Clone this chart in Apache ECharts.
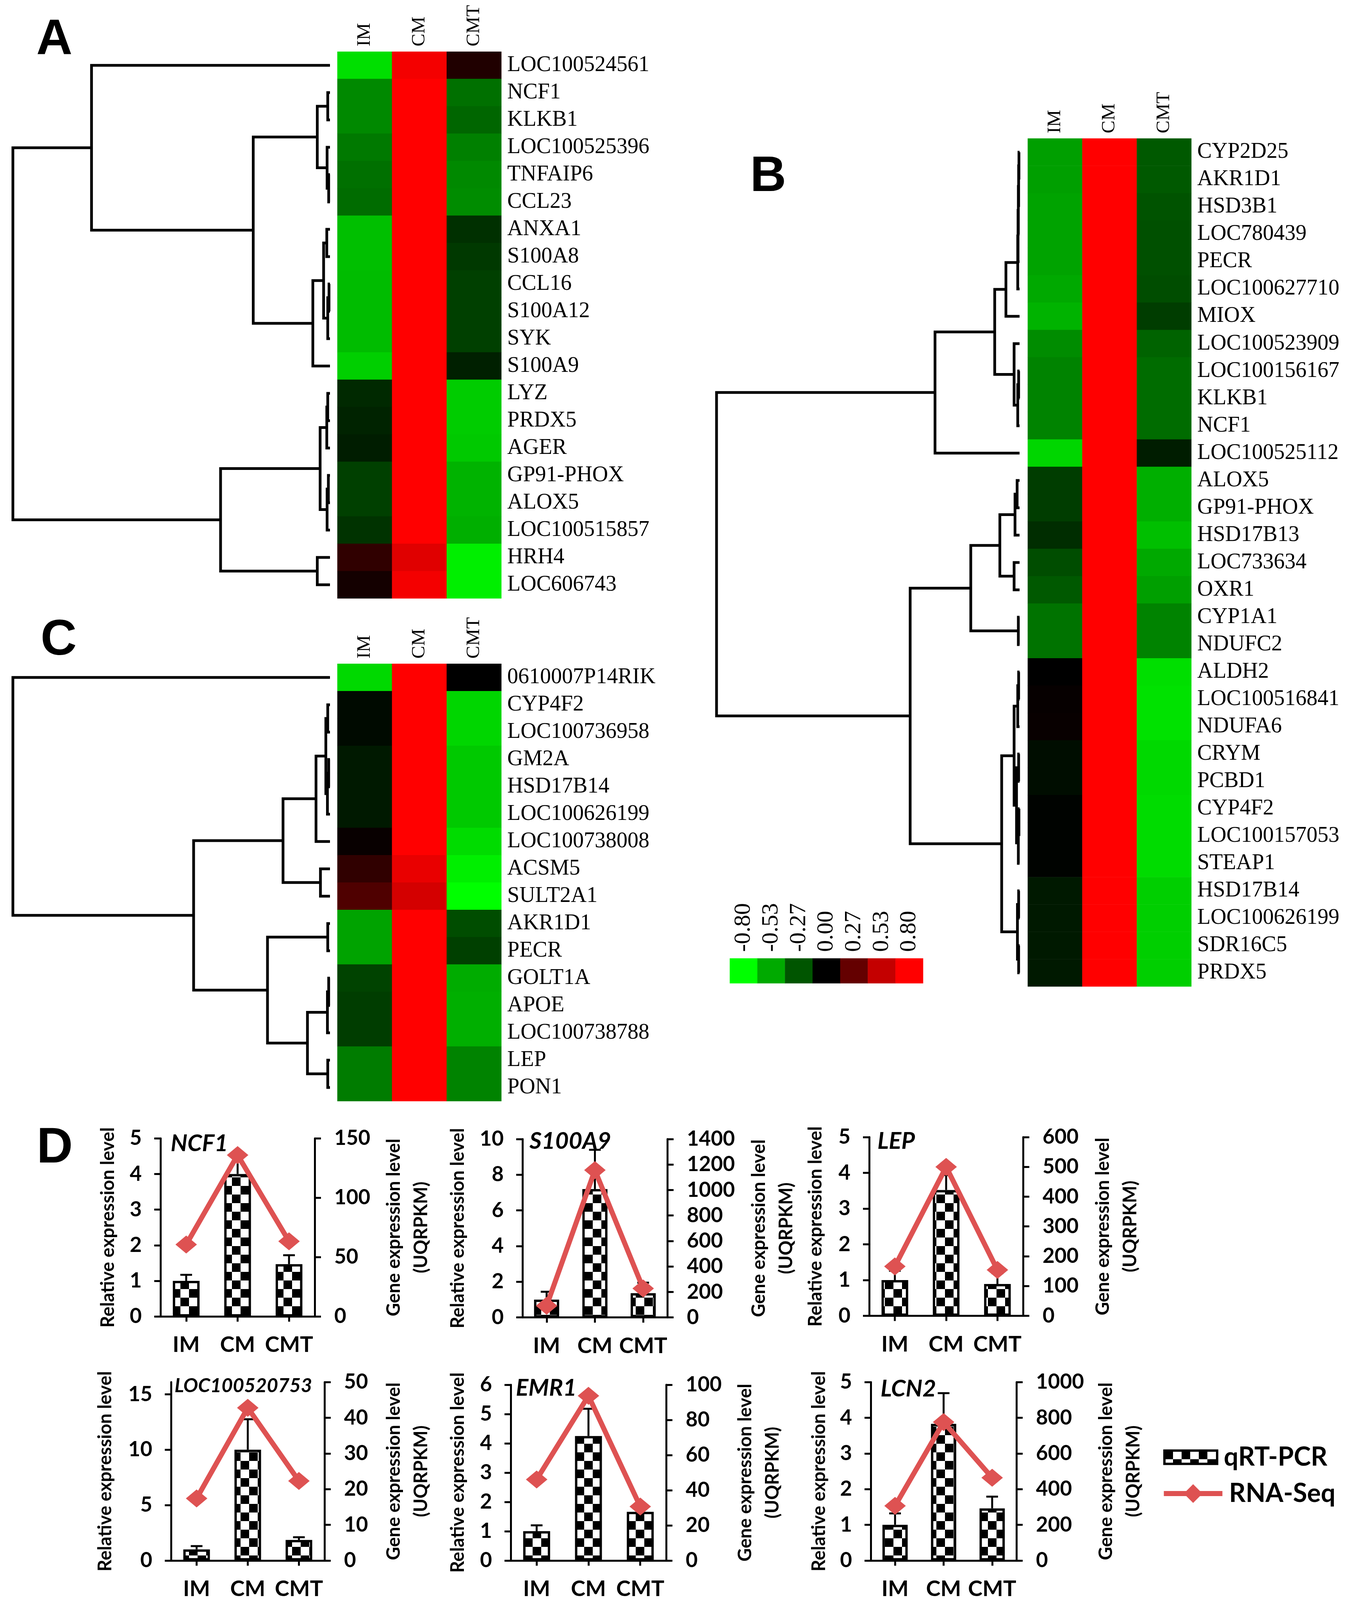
<!DOCTYPE html>
<html><head><meta charset="utf-8">
<script src="https://cdn.jsdelivr.net/npm/echarts@6/dist/echarts.min.js"></script>
<style>html,body{margin:0;padding:0;background:#fff;overflow:hidden}#c{width:3447px;height:4898px}</style>
</head><body><div id="c"></div>
<script>
// ---------------- DATA ----------------
const groups = ['IM', 'CM', 'CMT'];

// Panel A
const genesA = ['LOC100524561','NCF1','KLKB1','LOC100525396','TNFAIP6','CCL23','ANXA1','S100A8','CCL16','S100A12','SYK','S100A9','LYZ','PRDX5','AGER','GP91-PHOX','ALOX5','LOC100515857','HRH4','LOC606743'];
const valuesA = [
  [-0.70,0.75,0.085],[-0.43,0.80,-0.35],[-0.43,0.80,-0.32],[-0.38,0.80,-0.40],[-0.35,0.80,-0.43],
  [-0.34,0.80,-0.44],[-0.60,0.80,-0.15],[-0.60,0.80,-0.18],[-0.59,0.80,-0.20],[-0.59,0.80,-0.20],
  [-0.59,0.80,-0.20],[-0.65,0.80,-0.10],[-0.13,0.80,-0.64],[-0.11,0.80,-0.64],[-0.09,0.80,-0.63],
  [-0.20,0.80,-0.56],[-0.20,0.80,-0.56],[-0.16,0.80,-0.55],[0.128,0.66,-0.75],[0.053,0.75,-0.75]
];
const linkageA = [
  [1,2,0.7],[4,5,0.4],[3,21,0.9],[20,22,4.0],[6,7,1.0],[8,9,0.3],[25,10,0.7],[24,26,2.0],
  [27,11,5.4],[23,28,24.2],[0,29,75.2],[12,13,0.7],[31,14,1.0],[15,16,0.5],[33,17,0.9],
  [32,34,3.1],[18,19,4.0],[35,36,34.5],[30,37,100]
];

// Panel B
const genesB = ['CYP2D25','AKR1D1','HSD3B1','LOC780439','PECR','LOC100627710','MIOX','LOC100523909','LOC100156167','KLKB1','NCF1','LOC100525112','ALOX5','GP91-PHOX','HSD17B13','LOC733634','OXR1','CYP1A1','NDUFC2','ALDH2','LOC100516841','NDUFA6','CRYM','PCBD1','CYP4F2','LOC100157053','STEAP1','HSD17B14','LOC100626199','SDR16C5','PRDX5'];
const valuesB = [
  [-0.50,0.80,-0.28],[-0.50,0.80,-0.28],[-0.51,0.80,-0.26],[-0.51,0.80,-0.25],[-0.51,0.80,-0.25],
  [-0.53,0.80,-0.24],[-0.56,0.80,-0.19],[-0.44,0.80,-0.31],[-0.41,0.80,-0.34],[-0.41,0.80,-0.34],
  [-0.41,0.80,-0.34],[-0.67,0.80,-0.09],[-0.19,0.80,-0.55],[-0.19,0.80,-0.55],[-0.14,0.80,-0.60],
  [-0.24,0.80,-0.53],[-0.28,0.80,-0.50],[-0.36,0.80,-0.41],[-0.36,0.80,-0.41],[0.00,0.80,-0.70],
  [0.016,0.80,-0.71],[0.021,0.80,-0.71],[-0.04,0.80,-0.68],[-0.04,0.80,-0.68],[-0.01,0.80,-0.69],
  [-0.01,0.80,-0.69],[-0.01,0.80,-0.69],[-0.08,0.80,-0.65],[-0.08,0.80,-0.65],[-0.08,0.80,-0.65],
  [-0.08,0.80,-0.65]
];
const linkageB = [
  [0,1,0.2],[31,2,0.3],[32,3,0.4],[33,4,0.5],[34,5,0.6],[35,6,4.5],[8,9,0.3],[37,10,0.6],
  [7,38,1.8],[36,39,8.2],[40,11,27.9],[12,13,0.8],[42,14,1.5],[15,16,1.8],[43,44,6.5],
  [17,18,0.4],[45,46,16.1],[19,20,0.3],[48,21,0.6],[22,23,0.3],[24,25,0.2],[51,26,0.4],
  [50,52,1.0],[49,53,1.8],[27,28,0.3],[29,30,0.3],[55,56,0.7],[54,57,5.9],[47,58,36.1],[41,59,100]
];

// Panel C
const genesC = ['0610007P14RIK','CYP4F2','LOC100736958','GM2A','HSD17B14','LOC100626199','LOC100738008','ACSM5','SULT2A1','AKR1D1','PECR','GOLT1A','APOE','LOC100738788','LEP','PON1'];
const valuesC = [
  [-0.68,0.80,0.00],[-0.03,0.80,-0.67],[-0.03,0.80,-0.67],[-0.08,0.80,-0.63],[-0.08,0.80,-0.63],
  [-0.08,0.80,-0.63],[0.021,0.80,-0.69],[0.128,0.70,-0.75],[0.21,0.606,-0.80],[-0.51,0.80,-0.24],
  [-0.51,0.80,-0.20],[-0.21,0.80,-0.54],[-0.19,0.80,-0.55],[-0.19,0.80,-0.55],[-0.39,0.80,-0.41],
  [-0.39,0.80,-0.41]
];
const linkageC = [
  [1,2,0.7],[3,4,0.4],[17,5,0.8],[16,18,1.3],[19,6,4.4],[7,8,3.0],[20,21,14.8],[9,10,0.7],
  [11,12,0.4],[24,13,0.8],[14,15,0.7],[25,26,7.1],[23,27,19.7],[22,28,43.0],[0,29,100]
];

// Colour key
const colorbarTicks = ['-0.80','-0.53','-0.27','0.00','0.27','0.53','0.80'];
const colorbarValues = [-0.8,-0.533,-0.267,0,0.267,0.533,0.8];
const keyColors = ['#00FF00','#00AA00','#005500','#000000','#640000','#C40000','#FF0000'];

// Panel D
const pcrGenes = ['NCF1','S100A9','LEP','LOC100520753','EMR1','LCN2'];
const qpcrNCF1 = [1.0, 4.0, 1.47],  errNCF1 = [1.17, 4.45, 1.72], rnaNCF1 = [60.6, 136, 63.3];
const qpcrS100A9 = [1.0, 7.2, 1.36], errS100A9 = [1.44, 9.4, 1.95], rnaS100A9 = [92, 1156, 227];
const qpcrLEP = [1.0, 3.52, 0.89],  errLEP = [1.26, 3.94, 1.19], rnaLEP = [166, 500, 154];
const qpcrLOC = [1.0, 10.0, 1.85],  errLOC = [1.3, 12.75, 2.1],  rnaLOC = [17.4, 42.8, 22.3];
const qpcrEMR1 = [1.0, 4.25, 1.66], errEMR1 = [1.2, 5.18, 1.85], rnaEMR1 = [46.1, 93.7, 30.7];
const qpcrLCN2 = [1.0, 3.83, 1.46], errLCN2 = [1.32, 4.69, 1.79], rnaLCN2 = [306, 776, 464];
const leftMax = [5, 10, 5, 16.1, 6, 5];
const leftTicks = [[0,1,2,3,4,5],[0,2,4,6,8,10],[0,1,2,3,4,5],[0,5,10,15],[0,1,2,3,4,5,6],[0,1,2,3,4,5]];
const rightMax = [150, 1400, 600, 50, 100, 1000];
const rightInterval = [50, 200, 100, 10, 20, 200];

// ---------------- LAYOUT / STYLE ----------------
const W = 3447, H = 4898;
// fit the whole figure in the visible window height
const SY = Math.min(1, (window.innerHeight || H) / H);
const FS = Math.sqrt(SY);
const Y = v => v * SY;                 // vertical positions
const R = v => Math.round(v * SY);     // font size of rotated (vertical) text
const F = v => Math.round(v * FS);
document.getElementById('c').style.height = Math.round(H * SY) + 'px';

const qpcr = [qpcrNCF1, qpcrS100A9, qpcrLEP, qpcrLOC, qpcrEMR1, qpcrLCN2];
const errs = [errNCF1, errS100A9, errLEP, errLOC, errEMR1, errLCN2];
const rnas = [rnaNCF1, rnaS100A9, rnaLEP, rnaLOC, rnaEMR1, rnaLCN2];
const dGrids = [[411,3485,395,545],[1338,3487,371,546],[2226,3481,394,547],[438,4231,393,548],[1308,4239,398,547],[2230,4231,373,548]];
const leftGap = [111,142,114,145,112,109];
const rightGap = [168,200,170,143,168,195];
const titleCenter = [[437,3501],[1356,3494],[2247,3494],[447,4243],[1321,4249],[2255,4252]];
const titleFont = [60, 60, 60, 50, 60, 60];
const RED = '#DE5252';
const SERIF = '"Liberation Serif", "Times New Roman", serif';
const SANS = 'Lato, "Open Sans", sans-serif';

const pat = document.createElement('canvas');
pat.width = 44; pat.height = 44;
const pc = pat.getContext('2d');
pc.fillStyle = '#fff'; pc.fillRect(0,0,44,44);
pc.fillStyle = '#000'; pc.fillRect(0,0,22,22); pc.fillRect(22,22,22,22);
const checker = {image: pat, repeat: 'repeat'};

function dendroItems(n, linkage) {
  const pos = [];
  for (let i = 0; i < n; i++) pos.push([0, i]);
  const items = [];
  linkage.forEach(([a, b, h]) => {
    const pa = pos[a], pb = pos[b];
    items.push([h, pa[1], pb[1], pa[0], pb[0]]);
    pos.push([h, (pa[1] + pb[1]) / 2]);
  });
  return items;
}
function dendroRender(params, api) {
  const h = api.value(0), yl = api.value(1), yr = api.value(2), hl = api.value(3), hr = api.value(4);
  const pts = [api.coord([hl, yl]), api.coord([h, yl]), api.coord([h, yr]), api.coord([hr, yr])];
  return {type: 'polyline', shape: {points: pts}, style: {stroke: '#000', lineWidth: 7, fill: null, lineJoin: 'miter'}};
}
function heatData(values) {
  const d = [];
  values.forEach((row, r) => row.forEach((v, c) => d.push([c, r, v])));
  return d;
}

const grid = [], xAxis = [], yAxis = [], series = [], title = [];
const heatSeriesIdx = [];

function addHeatPanel(genes, values, linkage, dg, hg) {
  const gi = grid.length;
  grid.push({left: dg[0], top: Y(dg[1]), width: dg[2], height: Y(dg[3])});
  xAxis.push({type: 'value', gridIndex: gi, min: 0, max: 100, inverse: true, show: false});
  yAxis.push({type: 'value', gridIndex: gi, min: -0.5, max: genes.length - 0.5, inverse: true, show: false});
  series.push({type: 'custom', xAxisIndex: xAxis.length - 1, yAxisIndex: yAxis.length - 1, clip: false, silent: true,
    data: dendroItems(genes.length, linkage), encode: {x: [0, 3, 4], y: [1, 2]}, renderItem: dendroRender});
  const hi = grid.length;
  grid.push({left: hg[0], top: Y(hg[1]), width: hg[2], height: Y(hg[3])});
  xAxis.push({type: 'category', gridIndex: hi, data: groups, position: 'top',
    axisLine: {show: false}, axisTick: {show: false}, splitLine: {show: false},
    axisLabel: {rotate: -90, interval: 0, margin: Y(16), fontFamily: SERIF, fontSize: R(58), color: '#000'}});
  yAxis.push({type: 'category', gridIndex: hi, data: genes, inverse: true, position: 'right',
    axisLine: {show: false}, axisTick: {show: false}, splitLine: {show: false},
    axisLabel: {interval: 0, margin: 15, fontFamily: SERIF, fontSize: 56, color: '#000'}});
  heatSeriesIdx.push(series.length);
  series.push({type: 'heatmap', xAxisIndex: xAxis.length - 1, yAxisIndex: yAxis.length - 1, data: heatData(values),
    itemStyle: {borderWidth: 0}, silent: true});
}

addHeatPanel(genesA, valuesA, linkageA, [33,158,812,1674], [864,158,420,1674]);
addHeatPanel(genesB, valuesB, linkageB, [1835,424,776,2596], [2632,424,419,2596]);
addHeatPanel(genesC, valuesC, linkageC, [33,2032,812,1339], [864,2032,420,1339]);

// colour key
{
  const gi = grid.length;
  grid.push({left: 1869, top: Y(2934), width: 495, height: Y(76)});
  xAxis.push({type: 'category', gridIndex: gi, data: colorbarTicks, position: 'top',
    axisLine: {show: false}, axisTick: {show: false},
    axisLabel: {rotate: -90, interval: 0, margin: Y(20), fontFamily: SERIF, fontSize: R(72), color: '#000'}});
  yAxis.push({type: 'category', gridIndex: gi, data: ['key'], show: false});
  heatSeriesIdx.push(series.length);
  series.push({type: 'heatmap', xAxisIndex: xAxis.length - 1, yAxisIndex: yAxis.length - 1,
    data: colorbarValues.map((v, i) => [i, 0, v]), silent: true});
}

// Panel D
const axisLineS = {show: true, lineStyle: {color: '#000', width: 5}};
const tickS = {show: true, length: 16, lineStyle: {color: '#000', width: 5}};
const plain = v => String(v);
pcrGenes.forEach((gene, k) => {
  const gi = grid.length;
  const g = dGrids[k];
  grid.push({left: g[0], top: Y(g[1]), width: g[2], height: Y(g[3])});
  const xi = xAxis.length;
  xAxis.push({type: 'category', gridIndex: gi, data: groups, axisLine: axisLineS,
    axisTick: {show: true, alignWithLabel: true, length: Y(16), lineStyle: {color: '#000', width: 5}},
    axisLabel: {interval: 0, margin: Y(54), fontFamily: SANS, fontWeight: 'bold', fontSize: 56, color: '#000'}});
  const yl = yAxis.length;
  const lt = leftTicks[k];
  yAxis.push({type: 'value', gridIndex: gi, position: 'left', min: 0, max: leftMax[k],
    interval: lt[1] - lt[0],
    axisLine: axisLineS,
    axisTick: Object.assign({customValues: lt}, tickS),
    axisLabel: {customValues: lt, formatter: plain, margin: 48, fontFamily: SANS, fontWeight: 'bold', fontSize: 53, color: '#000'},
    splitLine: {show: false},
    name: 'Relative expression level', nameLocation: 'middle', nameGap: leftGap[k],
    nameTextStyle: {fontFamily: SANS, fontWeight: 'bold', fontSize: R(56), color: '#000'}});
  const yr = yAxis.length;
  yAxis.push({type: 'value', gridIndex: gi, position: 'right', min: 0, max: rightMax[k], interval: rightInterval[k],
    axisLine: axisLineS, axisTick: tickS,
    axisLabel: {formatter: plain, margin: 50, fontFamily: SANS, fontWeight: 'bold', fontSize: 53, color: '#000'},
    splitLine: {show: false},
    name: 'Gene expression level\n(UQRPKM)', nameLocation: 'middle', nameGap: rightGap[k],
    nameTextStyle: {fontFamily: SANS, fontWeight: 'bold', fontSize: R(56), lineHeight: 70, color: '#000'}});
  series.push({type: 'bar', name: 'qRT-PCR', xAxisIndex: xi, yAxisIndex: yl, data: qpcr[k], barWidth: '52%',
    itemStyle: {color: checker, borderColor: '#000', borderWidth: 6}, z: 2, silent: true});
  series.push({type: 'custom', xAxisIndex: xi, yAxisIndex: yl, z: 3, silent: true, clip: false,
    data: qpcr[k].map((v, i) => [i, v, errs[k][i]]), encode: {x: 0, y: [1, 2]},
    renderItem: function (p, api) {
      const x = api.value(0);
      const b = api.coord([x, api.value(1)]), t = api.coord([x, api.value(2)]);
      const w = 30;
      return {type: 'group', children: [
        {type: 'line', shape: {x1: b[0], y1: b[1], x2: t[0], y2: t[1]}, style: {stroke: '#000', lineWidth: 5}},
        {type: 'line', shape: {x1: t[0] - w / 2, y1: t[1], x2: t[0] + w / 2, y2: t[1]}, style: {stroke: '#000', lineWidth: 5}}
      ]};
    }});
  series.push({type: 'line', name: 'RNA-Seq', xAxisIndex: xi, yAxisIndex: yr, data: rnas[k],
    symbol: 'diamond', symbolSize: [55, Math.round(55 * SY)], lineStyle: {color: RED, width: 13}, itemStyle: {color: RED}, z: 5, silent: true});
  const tf = titleFont[k];
  title.push({text: gene, left: titleCenter[k][0], top: Y(titleCenter[k][1]) - tf * 0.6, padding: 0,
    textStyle: {fontFamily: SANS, fontWeight: 'bold', fontStyle: 'italic', fontSize: tf, lineHeight: Math.round(tf * 1.2), color: '#000'}});
});

const letters = [['A', 93, 124], ['B', 1921, 542], ['C', 104, 1962], ['D', 94, 3516]];
const legendFont = 66;
const legendRow = Math.round(legendFont * 1.2);
const legendText = {fontFamily: SANS, fontWeight: 'bold', fontSize: legendFont, lineHeight: legendRow, color: '#000', padding: [0, 0, 0, 12]};
const lineIconH = 60;
const option = {
  animation: false,
  backgroundColor: '#fff',
  title: title,
  grid: grid,
  xAxis: xAxis,
  yAxis: yAxis,
  visualMap: {type: 'continuous', show: false, min: -0.8, max: 0.8, seriesIndex: heatSeriesIdx,
    inRange: {color: keyColors}},
  legend: [
    {data: [{name: 'qRT-PCR', icon: 'rect', itemStyle: {borderWidth: 6, borderColor: '#000'}}],
      left: 2979, top: Y(4461) - legendRow / 2, padding: 0, icon: 'rect',
      itemWidth: 135, itemHeight: Math.round(Y(41)), selectedMode: false, textStyle: legendText},
    {data: [{name: 'RNA-Seq'}],
      left: 2974, top: Y(4572) - Math.max(legendRow, lineIconH) / 2, padding: 0,
      itemWidth: 150, itemHeight: lineIconH, selectedMode: false,
      lineStyle: {width: 13, color: RED}, itemStyle: {color: RED}, textStyle: legendText}
  ],
  graphic: letters.map(([t, x, y]) => ({type: 'text', x: x, y: Y(y), silent: true,
    style: {text: t, fill: '#000', font: 'bold ' + F(140) + 'px "Liberation Sans", Arial, sans-serif', verticalAlign: 'middle'}})),
  series: series
};
const chart = echarts.init(document.getElementById('c'), null, {renderer: 'canvas', width: W, height: Math.round(H * SY), devicePixelRatio: 1});
chart.setOption(option);
</script></body></html>
